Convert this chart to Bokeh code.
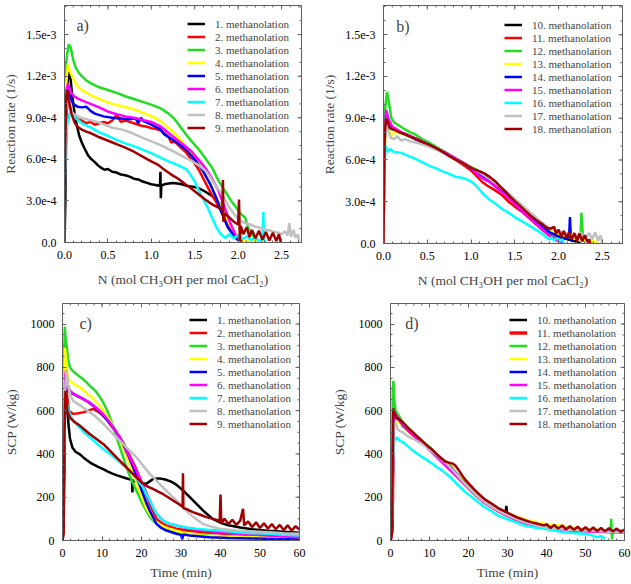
import math
from bokeh.plotting import figure
from bokeh.models import Range1d, FixedTicker, Label
from bokeh.layouts import column, row
from bokeh.embed import file_html
from bokeh.resources import INLINE

# ---------------- data ----------------
COLORS = ["#000000", "#ff0000", "#22dd22", "#ffff00", "#0000ff",
          "#ff00ff", "#00ffff", "#c0c0c0", "#a00000"]

LABELS_A = ["1. methanolation", "2. methanolation", "3. methanolation",
            "4. methanolation", "5. methanolation", "6. methanolation",
            "7. methanolation", "8. methanolation", "9. methanolation"]
LABELS_B = ["10. methanolation", "11. methanolation", "12. methanolation",
            "13. methanolation", "14. methanolation", "15. methanolation",
            "16. methanolation", "17. methanolation", "18. methanolation"]

# panel a : N (mol/mol) vs reaction rate (1e-4 1/s)
A1 = [(0, 0), (0.01, 3.0), (0.02, 8.5), (0.035, 11.5), (0.05, 12.4), (0.07, 11.8), (0.09, 10.5),
      (0.115, 9.4), (0.14, 8.5), (0.17, 7.7), (0.2, 7.2), (0.23, 6.8), (0.27, 6.3), (0.31, 6.0),
      (0.35, 5.8), (0.38, 5.6), (0.42, 5.4), (0.46, 5.25), (0.5, 5.3), (0.55, 5.1), (0.6, 5.05),
      (0.65, 4.9), (0.7, 4.85), (0.75, 4.75), (0.8, 4.6), (0.85, 4.55), (0.9, 4.4), (0.95, 4.3),
      (1.0, 4.2), (1.05, 4.15), (1.08, 4.1), (1.1, 4.2), (1.105, 5.1), (1.11, 3.2), (1.115, 4.1),
      (1.15, 4.2), (1.2, 4.25), (1.25, 4.3), (1.3, 4.25), (1.35, 4.2), (1.4, 4.1), (1.45, 4.05),
      (1.5, 4.0), (1.55, 3.9), (1.6, 3.75), (1.65, 3.55), (1.7, 3.35), (1.75, 3.1), (1.8, 2.7),
      (1.85, 1.9), (1.9, 1.2), (1.95, 0.6), (2.0, 0.25), (2.05, 0.1)]
A2 = [(0, 0), (0.005, 6.0), (0.015, 9.5), (0.025, 10.3), (0.04, 10.0), (0.07, 9.6), (0.1, 9.2),
      (0.15, 8.9), (0.2, 8.8), (0.25, 8.6), (0.3, 8.7), (0.35, 8.5), (0.4, 8.6), (0.45, 8.7),
      (0.5, 8.6), (0.55, 8.8), (0.6, 9.2), (0.65, 8.7), (0.7, 8.8), (0.75, 8.7), (0.8, 8.6),
      (0.85, 8.5), (0.9, 8.4), (0.95, 8.35), (1.0, 8.25), (1.05, 8.2), (1.1, 8.1), (1.15, 7.9),
      (1.2, 7.6), (1.23, 7.2), (1.26, 7.3), (1.3, 7.1), (1.35, 6.8), (1.4, 6.5), (1.45, 6.1),
      (1.5, 5.7), (1.55, 5.2), (1.6, 4.6), (1.65, 4.0), (1.7, 3.4), (1.75, 2.9), (1.8, 2.3),
      (1.85, 1.7), (1.9, 1.1), (1.95, 0.6), (2.0, 0.25), (2.05, 0.1)]
A3 = [(0, 0), (0.005, 9.0), (0.015, 12.5), (0.03, 13.6), (0.05, 14.3), (0.07, 14.1), (0.1, 13.2),
      (0.13, 12.6), (0.17, 12.2), (0.2, 12.0), (0.25, 11.7), (0.3, 11.5), (0.4, 11.2), (0.5, 11.0),
      (0.6, 10.8), (0.7, 10.55), (0.8, 10.35), (0.9, 10.15), (1.0, 9.95), (1.1, 9.7), (1.2, 9.3),
      (1.27, 8.9), (1.35, 8.2), (1.45, 7.4), (1.55, 6.7), (1.62, 6.1), (1.7, 5.4), (1.77, 4.5),
      (1.85, 3.7), (1.92, 3.0), (1.98, 2.5), (2.04, 2.0), (2.08, 1.8), (2.12, 1.0), (2.18, 0.4),
      (2.23, 0.15), (2.28, 0.05)]
A4 = [(0, 0), (0.005, 7.0), (0.02, 11.5), (0.04, 12.9), (0.06, 12.4), (0.1, 11.8), (0.15, 11.3),
      (0.2, 11.0), (0.31, 10.6), (0.46, 10.2), (0.55, 10.0), (0.65, 9.85), (0.75, 9.7), (0.85, 9.5),
      (0.95, 9.25), (1.04, 9.0), (1.12, 8.7), (1.19, 8.3), (1.25, 8.0), (1.31, 7.6), (1.38, 7.1),
      (1.46, 6.4), (1.54, 5.7), (1.62, 4.9), (1.68, 4.2), (1.73, 3.5), (1.8, 2.6), (1.85, 2.0),
      (1.92, 1.1), (2.0, 0.4), (2.08, 0.15), (2.15, 0.1), (2.2, 0.15), (2.25, 0.05)]
A5 = [(0, 0), (0.005, 6.0), (0.02, 10.0), (0.03, 11.2), (0.06, 10.6), (0.1, 10.0), (0.15, 9.8),
      (0.2, 9.75), (0.25, 9.8), (0.3, 9.5), (0.35, 9.3), (0.45, 9.1), (0.55, 9.0), (0.65, 8.95),
      (0.75, 8.9), (0.82, 8.95), (0.85, 8.6), (0.88, 9.0), (0.9, 8.8), (1.0, 8.5), (1.1, 8.2),
      (1.15, 7.8), (1.2, 7.6), (1.3, 7.2), (1.4, 6.7), (1.5, 6.0), (1.6, 5.1), (1.68, 4.2),
      (1.75, 3.2), (1.82, 2.0), (1.88, 1.1), (1.95, 0.5), (2.0, 0.15)]
A6 = [(0, 0), (0.005, 7.5), (0.02, 10.8), (0.04, 11.5), (0.07, 10.9), (0.1, 10.6), (0.15, 10.4),
      (0.2, 10.25), (0.3, 10.0), (0.4, 9.75), (0.5, 9.45), (0.6, 9.25), (0.7, 9.1), (0.8, 9.0),
      (0.9, 8.85), (1.0, 8.7), (1.1, 8.4), (1.2, 7.9), (1.3, 7.4), (1.38, 7.0), (1.46, 6.6),
      (1.54, 6.0), (1.62, 5.4), (1.7, 4.6), (1.77, 3.8), (1.83, 2.8), (1.88, 1.9), (1.93, 1.1),
      (1.96, 0.7), (2.0, 0.3)]
A7 = [(0, 0), (0.002, 3.6), (0.01, 6.5), (0.03, 8.5), (0.06, 9.3), (0.08, 9.5), (0.11, 9.1),
      (0.15, 8.85), (0.2, 8.6), (0.3, 8.3), (0.4, 7.95), (0.5, 7.7), (0.6, 7.4), (0.7, 7.15),
      (0.8, 6.95), (0.9, 6.7), (1.0, 6.45), (1.1, 6.15), (1.2, 5.85), (1.3, 5.6), (1.4, 5.3),
      (1.45, 4.9), (1.5, 4.4), (1.55, 3.7), (1.6, 3.1), (1.65, 2.5), (1.7, 1.8), (1.75, 1.1),
      (1.8, 0.6), (1.85, 0.35), (1.9, 0.6), (1.95, 0.3), (2.0, 0.55), (2.05, 0.25), (2.1, 0.45),
      (2.15, 0.2), (2.2, 0.3), (2.25, 0.1), (2.28, 0.3), (2.29, 2.2), (2.3, 0.2), (2.32, 0.05)]
A8 = [(0, 0), (0.005, 5.0), (0.02, 9.5), (0.04, 10.3), (0.07, 9.6), (0.1, 9.3), (0.19, 9.0),
      (0.28, 8.85), (0.38, 8.7), (0.46, 8.5), (0.54, 8.3), (0.62, 8.2), (0.69, 8.1), (0.77, 7.9),
      (0.85, 7.7), (0.92, 7.5), (1.0, 7.3), (1.08, 7.1), (1.15, 6.9), (1.23, 6.65), (1.31, 6.4),
      (1.38, 6.15), (1.46, 5.9), (1.54, 5.6), (1.62, 5.2), (1.68, 4.7), (1.73, 4.2), (1.79, 3.7),
      (1.85, 3.1), (1.9, 2.5), (1.96, 2.0), (2.02, 1.6), (2.08, 1.4), (2.14, 1.3), (2.19, 1.15),
      (2.23, 1.1), (2.28, 1.0), (2.33, 0.9), (2.38, 0.85), (2.43, 0.75), (2.47, 0.7), (2.5, 0.6),
      (2.54, 0.8), (2.57, 0.5), (2.59, 1.4), (2.61, 0.4), (2.64, 0.9), (2.66, 0.35), (2.69, 0.6),
      (2.7, 0.1)]
A9 = [(0, 0), (0.005, 6.0), (0.02, 10.5), (0.035, 11.0), (0.05, 10.3), (0.08, 9.3), (0.12, 8.6),
      (0.16, 8.3), (0.2, 8.15), (0.25, 8.0), (0.3, 7.9), (0.38, 7.65), (0.46, 7.45), (0.54, 7.25),
      (0.62, 7.05), (0.7, 6.85), (0.8, 6.55), (0.9, 6.2), (1.0, 5.85), (1.08, 5.6), (1.15, 5.25),
      (1.23, 4.9), (1.31, 4.6), (1.38, 4.25), (1.46, 3.9), (1.54, 3.5), (1.62, 3.1), (1.7, 2.75),
      (1.78, 2.5), (1.82, 2.4), (1.825, 4.5), (1.83, 1.5), (1.85, 2.1), (1.9, 1.8), (1.95, 1.5),
      (2.0, 1.3), (2.01, 3.1), (2.02, 0.1), (2.03, 1.2), (2.06, 0.6), (2.1, 1.1), (2.13, 0.4),
      (2.16, 0.9), (2.2, 0.3), (2.24, 0.85), (2.28, 0.2), (2.32, 0.75), (2.36, 0.15), (2.4, 0.7),
      (2.44, 0.1), (2.47, 0.6), (2.49, 0.05), (2.5, 0.0)]

# panel b : N (mol/mol) vs reaction rate (1e-4 1/s)
B10 = [(0, 0), (0.01, 7.0), (0.03, 9.4), (0.05, 8.9), (0.08, 8.4), (0.12, 8.2), (0.2, 7.95),
       (0.3, 7.7), (0.4, 7.4), (0.5, 7.15), (0.6, 6.85), (0.7, 6.5), (0.8, 6.15), (0.9, 5.8),
       (1.0, 5.45), (1.1, 5.05), (1.2, 4.6), (1.3, 4.1), (1.4, 3.6), (1.5, 3.0), (1.6, 2.4),
       (1.7, 1.8), (1.8, 1.3), (1.9, 0.8), (2.0, 0.5), (2.1, 0.3), (2.2, 0.15), (2.25, 0.0)]
B11 = [(0, 0), (0.005, 5.0), (0.02, 8.7), (0.04, 8.9), (0.07, 8.4), (0.12, 8.2), (0.2, 7.95),
       (0.3, 7.7), (0.4, 7.45), (0.5, 7.15), (0.6, 6.85), (0.7, 6.5), (0.8, 6.1), (0.9, 5.7),
       (1.0, 5.25), (1.07, 4.8), (1.13, 4.4), (1.2, 4.1), (1.28, 3.8), (1.35, 3.5), (1.43, 3.0),
       (1.5, 2.65), (1.58, 2.3), (1.66, 1.85), (1.74, 1.4), (1.82, 0.95), (1.89, 0.6), (1.95, 0.4),
       (2.0, 0.25), (2.05, 0.1)]
B12 = [(0, 0), (0.005, 5.0), (0.02, 9.8), (0.04, 10.9), (0.06, 10.2), (0.09, 9.0), (0.12, 8.7),
       (0.16, 8.55), (0.22, 8.3), (0.3, 8.0), (0.36, 7.85), (0.44, 7.5), (0.52, 7.25), (0.6, 6.95),
       (0.67, 6.7), (0.75, 6.4), (0.82, 6.1), (0.9, 5.85), (0.97, 5.6), (1.05, 5.35), (1.15, 4.95),
       (1.25, 4.5), (1.35, 3.95), (1.45, 3.4), (1.55, 2.8), (1.65, 2.2), (1.75, 1.6), (1.85, 1.1),
       (1.95, 0.8), (2.05, 0.6), (2.15, 0.45), (2.2, 0.5), (2.25, 0.3), (2.26, 2.2), (2.28, 0.3),
       (2.32, 0.2), (2.38, 0.1)]
B13 = [(0, 0), (0.01, 6.0), (0.03, 8.8), (0.06, 8.3), (0.08, 7.7), (0.1, 7.8), (0.13, 8.0),
       (0.2, 7.9), (0.3, 7.7), (0.4, 7.4), (0.5, 7.1), (0.6, 6.85), (0.7, 6.5), (0.8, 6.15),
       (0.9, 5.8), (1.0, 5.45), (1.1, 5.05), (1.2, 4.6), (1.3, 4.15), (1.4, 3.65), (1.5, 3.1),
       (1.6, 2.55), (1.7, 1.95), (1.8, 1.45), (1.9, 1.0), (2.0, 0.7), (2.1, 0.5), (2.2, 0.35),
       (2.3, 0.25), (2.4, 0.15), (2.45, 0.05)]
B14 = [(0, 0), (0.01, 7.0), (0.03, 9.3), (0.06, 8.7), (0.1, 8.3), (0.2, 7.95), (0.3, 7.7),
       (0.4, 7.4), (0.5, 7.15), (0.6, 6.85), (0.7, 6.5), (0.8, 6.15), (0.9, 5.8), (1.0, 5.4),
       (1.1, 4.95), (1.2, 4.5), (1.3, 4.0), (1.4, 3.5), (1.5, 2.95), (1.6, 2.4), (1.7, 1.8),
       (1.8, 1.25), (1.9, 0.8), (2.0, 0.5), (2.08, 0.35), (2.12, 0.5), (2.13, 1.9), (2.14, 0.4),
       (2.16, 0.1)]
B15 = [(0, 0), (0.01, 7.0), (0.03, 9.6), (0.06, 8.9), (0.1, 8.4), (0.2, 8.0), (0.3, 7.75),
       (0.4, 7.45), (0.5, 7.15), (0.6, 6.85), (0.7, 6.55), (0.8, 6.2), (0.9, 5.85), (1.0, 5.45),
       (1.07, 5.0), (1.13, 4.7), (1.2, 4.45), (1.26, 4.2), (1.32, 3.85), (1.4, 3.45), (1.5, 2.85),
       (1.6, 2.25), (1.7, 1.65), (1.8, 1.1), (1.89, 0.6), (1.95, 0.3), (2.0, 0.15), (2.05, 0.05)]
B16 = [(0, 0), (0.003, 1.8), (0.01, 5.5), (0.025, 7.0), (0.05, 6.6), (0.08, 6.8), (0.11, 6.6),
       (0.15, 6.55), (0.21, 6.5), (0.28, 6.3), (0.36, 6.1), (0.44, 5.85), (0.52, 5.6), (0.6, 5.4),
       (0.67, 5.2), (0.75, 5.0), (0.82, 4.8), (0.88, 4.75), (0.94, 4.65), (1.0, 4.45), (1.05, 4.2),
       (1.12, 3.7), (1.2, 3.2), (1.28, 2.85), (1.35, 2.5), (1.43, 2.2), (1.5, 1.9), (1.58, 1.6),
       (1.66, 1.3), (1.74, 1.0), (1.81, 0.7), (1.85, 0.5), (1.89, 0.3), (1.92, 0.45), (1.95, 0.2),
       (1.98, 0.4), (2.01, 0.15), (2.04, 0.3), (2.06, 0.05)]
B17 = [(0, 0), (0.01, 6.5), (0.03, 9.0), (0.05, 8.2), (0.08, 7.6), (0.12, 7.5), (0.16, 7.7),
       (0.2, 7.4), (0.25, 7.5), (0.3, 7.35), (0.4, 7.2), (0.5, 7.0), (0.6, 6.75), (0.7, 6.45),
       (0.8, 6.1), (0.9, 5.8), (1.0, 5.45), (1.1, 5.1), (1.2, 4.7), (1.3, 4.25), (1.4, 3.75),
       (1.5, 3.2), (1.6, 2.65), (1.7, 2.1), (1.8, 1.55), (1.9, 1.1), (2.0, 0.85), (2.1, 0.7),
       (2.2, 0.55), (2.25, 0.8), (2.3, 0.4), (2.35, 0.75), (2.38, 0.3), (2.42, 0.8), (2.45, 0.2),
       (2.48, 0.6), (2.5, 0.0)]
B18 = [(0, 0), (0.005, 4.0), (0.015, 8.0), (0.03, 9.0), (0.045, 8.8), (0.07, 8.3), (0.1, 8.2),
       (0.13, 8.15), (0.18, 8.0), (0.25, 7.85), (0.3, 7.7), (0.36, 7.55), (0.44, 7.3), (0.52, 7.1),
       (0.6, 6.85), (0.67, 6.6), (0.75, 6.3), (0.82, 6.05), (0.9, 5.8), (0.97, 5.55), (1.03, 5.35),
       (1.09, 5.2), (1.13, 5.1), (1.16, 5.0), (1.22, 4.75), (1.28, 4.45), (1.34, 4.05), (1.39, 3.75),
       (1.45, 3.35), (1.5, 3.05), (1.56, 2.7), (1.62, 2.35), (1.68, 2.0), (1.74, 1.7), (1.8, 1.45),
       (1.85, 1.2), (1.9, 1.05), (1.95, 1.2), (1.97, 0.7), (2.0, 1.0), (2.03, 0.5), (2.06, 0.9),
       (2.09, 0.4), (2.12, 0.8), (2.15, 0.3), (2.18, 0.75), (2.21, 0.2), (2.24, 0.7), (2.27, 0.15),
       (2.3, 0.6), (2.33, 0.1), (2.35, 0.3), (2.36, 0.0)]

# panel c : time (min) vs SCP (W/kg)
C1 = [(0, 0), (0.3, 120), (0.6, 560), (0.9, 723), (1.2, 640), (1.5, 540), (1.9, 470), (2.5, 430),
      (3.3, 410), (4.4, 398), (5.2, 385), (6.1, 372), (7, 360), (7.8, 352), (9, 340), (10.3, 330),
      (11.5, 318), (12.8, 308), (14, 300), (15.3, 292), (16.5, 285), (17.6, 280), (17.7, 222),
      (17.8, 278), (18.7, 270), (20, 265), (21.2, 262), (22, 272), (23, 285), (24.5, 287),
      (26, 282), (27.5, 272), (28.5, 262), (30.5, 232), (33, 186), (35.5, 140), (38, 100),
      (40, 82), (42, 70), (45, 60), (48, 52), (52, 45), (56, 40), (60, 36)]
C2 = [(0, 0), (0.3, 200), (0.6, 700), (0.9, 738), (1.2, 660), (1.6, 600), (2.7, 585), (4, 588),
      (5.2, 592), (6.5, 600), (7.75, 608), (9, 595), (10.3, 577), (11.2, 560), (12, 538),
      (13.2, 510), (14.5, 477), (15.8, 438), (17, 392), (18.3, 345), (19.5, 292), (20.8, 232),
      (22.1, 169), (23.8, 100), (25, 82), (26.3, 69), (28.8, 54), (32, 45), (35.5, 38), (40, 32),
      (44, 28), (50, 22), (55, 18), (60, 15)]
C3 = [(0, 0), (0.2, 300), (0.4, 850), (0.6, 988), (0.8, 930), (1.0, 908), (1.4, 840), (1.85, 800),
      (2.5, 785), (3.5, 769), (4.3, 758), (5.2, 746), (6, 732), (6.9, 715), (7.8, 700), (8.6, 685),
      (9.5, 662), (10.3, 638), (11.2, 605), (12, 569), (12.6, 540), (13.2, 508), (13.8, 470),
      (14.5, 431), (15.3, 388), (16.2, 338), (17, 300), (17.9, 262), (18.7, 230), (19.5, 200),
      (20.3, 168), (21.2, 138), (22, 112), (22.9, 92), (24, 75), (25.4, 62), (27, 50), (28.8, 40),
      (31, 33), (34, 28), (37.2, 23), (40, 20), (44, 15), (48, 12), (52.4, 8), (56, 7), (60, 5)]
C4 = [(0, 0), (0.3, 400), (0.6, 890), (0.9, 840), (1.3, 760), (1.85, 738), (3, 722), (4.4, 708),
      (5.6, 690), (6.9, 669), (8.1, 648), (9.4, 623), (10.7, 590), (12, 554), (12.8, 528),
      (13.6, 500), (14.5, 466), (15.3, 431), (16.1, 395), (17, 354), (17.8, 312), (18.7, 269),
      (19.5, 228), (20.4, 185), (21.2, 150), (22.1, 123), (23, 100), (23.8, 85), (25.4, 66),
      (27.1, 54), (29, 44), (31.3, 34), (35.5, 23), (40, 20), (44, 18), (50, 15), (55, 11), (60, 8)]
C5 = [(0, 0), (0.3, 250), (0.7, 700), (1.0, 769), (1.3, 720), (1.9, 682), (2.7, 677), (4, 665),
      (5.2, 654), (6.5, 640), (7.75, 623), (9, 602), (10.3, 577), (11.5, 552), (12.8, 523),
      (14, 490), (15.3, 446), (16.6, 395), (17.9, 338), (19.1, 278), (20.4, 215), (21.2, 175),
      (22.1, 138), (23, 105), (23.8, 77), (25, 58), (26.3, 46), (28.8, 31), (30, 26), (30.3, 6),
      (30.6, 28), (32.2, 23), (37.2, 15), (42, 12), (48, 9), (54, 7), (60, 5)]
C6 = [(0, 0), (0.3, 300), (0.7, 760), (0.9, 785), (1.2, 720), (1.85, 692), (3, 676), (4.4, 662),
      (5.6, 650), (6.9, 638), (8.1, 620), (9.4, 600), (10.7, 575), (12, 546), (13.2, 513),
      (14.5, 477), (15.8, 433), (17, 385), (18.3, 338), (19.5, 292), (20.8, 238), (22.1, 185),
      (23, 150), (23.8, 123), (25.4, 92), (27, 78), (28.8, 69), (32.2, 54), (37.2, 43), (40, 38),
      (44, 31), (48, 27), (52.4, 23), (56, 19), (60, 15)]
C7 = [(0, 0), (0.05, 246), (0.3, 420), (0.6, 600), (1.0, 638), (1.5, 600), (2.5, 560), (3.5, 538),
      (5.2, 505), (6.9, 477), (8.6, 450), (10.3, 423), (12, 400), (13.6, 377), (15.3, 350),
      (17, 323), (18.7, 288), (20.4, 246), (21.2, 215), (22.1, 185), (23, 152), (23.8, 123),
      (25.4, 92), (27, 78), (28.8, 69), (31.3, 60), (33.9, 54), (36.8, 50), (39.8, 46), (44, 38),
      (48, 34), (52.4, 31), (56, 27), (60, 23)]
C8 = [(0, 0), (0.3, 250), (0.7, 700), (1.0, 792), (1.4, 720), (2.0, 670), (2.7, 646), (4, 630),
      (5.2, 615), (6.9, 592), (8.6, 569), (10.3, 540), (12, 508), (13.6, 477), (15.3, 446),
      (17, 415), (18.7, 385), (20.4, 346), (22.1, 308), (23.8, 277), (25.4, 246), (27.1, 215),
      (28.8, 185), (30.5, 154), (32.2, 123), (33.9, 98), (35.5, 77), (37.7, 64), (39.8, 54),
      (44, 46), (48, 42), (52.4, 38), (56, 34), (60, 31)]
C9 = [(0, 0), (0.3, 30), (0.5, 500), (0.75, 692), (1.2, 600), (1.85, 569), (3, 548), (4.4, 531),
      (5.6, 512), (6.9, 492), (8.6, 469), (10.3, 446), (12, 415), (13.6, 385), (15.3, 354),
      (17, 323), (18.7, 292), (20.4, 262), (21.7, 248), (22.9, 238), (24.2, 226), (25.4, 215),
      (26.7, 200), (28, 185), (29.3, 170), (30.4, 156), (30.5, 311), (30.6, 150), (31.8, 142),
      (33, 131), (34.7, 120), (36.4, 108), (38.1, 100), (39.8, 92), (40, 212), (40.2, 80),
      (41, 100), (42, 76), (43, 96), (44, 72), (45, 92), (45.7, 146), (46, 70), (47, 88),
      (48, 62), (49, 84), (50, 58), (51, 80), (52, 55), (53, 76), (54, 52), (55, 72), (56, 48),
      (57, 70), (58, 46), (59, 66), (60, 50)]

# panel d : time (min) vs SCP (W/kg)
D10 = [(0, 0), (0.4, 60), (0.8, 560), (1.2, 585), (2, 565), (3.2, 535), (5.7, 495), (8.2, 455),
       (10.8, 415), (13.3, 375), (15, 350), (16.7, 315), (19.2, 262), (21.7, 218), (24.2, 180),
       (27.6, 142), (29.5, 125), (29.7, 160), (29.9, 122), (31, 110), (34.3, 87), (37.7, 70),
       (41, 60), (46, 50), (51, 46), (56, 43), (60, 42)]
D11 = [(0, 0), (0.4, 50), (0.8, 590), (1.2, 575), (2, 560), (3.2, 530), (5.7, 490), (8.2, 452),
       (10.8, 413), (13.3, 372), (15, 348), (16.7, 312), (19.2, 260), (21.7, 214), (24.2, 176),
       (27.6, 137), (31, 107), (34.3, 84), (37.7, 68), (41, 58), (46, 50), (51, 46), (56, 44),
       (60, 43)]
D12 = [(0, 0), (0.3, 100), (0.6, 700), (0.75, 738), (0.95, 650), (1.3, 600), (2, 580), (3.2, 545),
       (5.7, 500), (8.2, 460), (10.8, 418), (13.3, 375), (15, 350), (16.7, 314), (19.2, 262),
       (21.7, 216), (24.2, 178), (27.6, 140), (31, 110), (34.3, 86), (37.7, 70), (41, 60),
       (46, 51), (51, 47), (54, 45), (56.4, 40), (56.6, 100), (56.8, 5), (57, 45), (60, 42)]
D13 = [(0, 0), (0.4, 100), (0.8, 560), (1.2, 540), (2, 550), (3.2, 530), (5.7, 492), (8.2, 455),
       (10.8, 416), (13.3, 376), (15, 352), (16.7, 316), (19.2, 265), (21.7, 220), (24.2, 183),
       (27.6, 145), (31, 118), (34.3, 98), (37.7, 83), (41, 72), (44, 68), (46, 60), (51, 52),
       (56, 46), (60, 44)]
D14 = [(0, 0), (0.4, 80), (0.8, 570), (1.2, 580), (2, 562), (3.2, 532), (5.7, 492), (8.2, 454),
       (10.8, 414), (13.3, 374), (15, 348), (16.7, 312), (19.2, 260), (21.7, 214), (24.2, 176),
       (27.6, 138), (31, 108), (34.3, 85), (37.7, 69), (41, 58), (46, 50), (51, 46), (56, 43),
       (60, 42)]
D15 = [(0, 0), (0.4, 80), (0.8, 580), (1.2, 585), (2, 565), (3.2, 535), (5.7, 492), (8.2, 450),
       (10.8, 405), (13.3, 360), (15, 330), (16.7, 300), (19.2, 255), (21.7, 210), (24.2, 172),
       (27.6, 135), (31, 105), (34.3, 82), (37.7, 66), (41, 55), (44, 50), (46, 46), (51, 42),
       (56, 38), (60, 36)]
D16 = [(0, 0), (0.4, 200), (0.6, 380), (1.0, 460), (1.7, 477), (2.3, 462), (3.2, 454), (4.5, 435),
       (5.7, 415), (7, 400), (8.2, 385), (9.5, 370), (10.8, 354), (12, 338), (13.3, 323),
       (14.5, 305), (15.8, 285), (17, 262), (18.4, 238), (19.6, 218), (20.9, 200), (22.5, 177),
       (24.2, 154), (26, 134), (27.6, 115), (29.3, 103), (31, 92), (32.7, 80), (34.3, 69),
       (37, 60), (39.4, 54), (42, 46), (44.4, 38), (47, 35), (49.5, 31), (51, 28), (52.9, 15),
       (54, 20), (55, 10)]
D17 = [(0, 0), (0.4, 90), (0.8, 520), (1.2, 545), (2, 510), (3.2, 500), (4.5, 480), (5.7, 470),
       (8.2, 445), (10.8, 410), (13.3, 370), (15, 345), (16.7, 310), (19.2, 260), (21.7, 214),
       (24.2, 176), (27.6, 138), (31, 108), (34.3, 85), (37.7, 69), (41, 58), (46, 50), (51, 46),
       (56, 40), (60, 38)]
D18 = [(0, 0), (0.4, 40), (0.7, 610), (1.0, 590), (1.5, 570), (2.2, 560), (3.2, 545), (4.5, 520),
       (5.7, 500), (7, 478), (8.2, 458), (9.5, 437), (10.8, 418), (12, 395), (13.3, 375),
       (14, 365), (15, 360), (16, 355), (16.7, 345), (17.5, 325), (18.4, 300), (19.2, 280),
       (20.5, 255), (21.7, 232), (23, 210), (24.2, 190), (26, 170), (27.6, 150), (29.3, 135),
       (31, 120), (32.7, 105), (34.3, 95), (36, 85), (37.7, 77), (39.4, 70), (40, 75), (41, 58),
       (42, 72), (43, 55), (44, 70), (45, 52), (46, 66), (47, 50), (48, 64), (49, 46), (50, 62),
       (51, 45), (52, 60), (53, 44), (54, 58), (55, 42), (56, 57), (57, 42), (58, 55), (59, 40),
       (60, 50)]

SERIES_A = [A1, A2, A3, A4, A5, A6, A7, A8, A9]
SERIES_B = [B10, B11, B12, B13, B14, B15, B16, B17, B18]
SERIES_C = [C1, C2, C3, C4, C5, C6, C7, C8, C9]
SERIES_D = [D10, D11, D12, D13, D14, D15, D16, D17, D18]

RATE_UNIT = 1e-4
N_TICKS = [0.0, 0.5, 1.0, 1.5, 2.0, 2.5]
N_TICK_LABELS = ["0.0", "0.5", "1.0", "1.5", "2.0", "2.5"]
RATE_TICKS = [0.0, 0.0003, 0.0006, 0.0009, 0.0012, 0.0015]
RATE_TICK_LABELS = ["0.0", "3.0e-4", "6.0e-4", "9.0e-4", "1.2e-3", "1.5e-3"]
T_TICKS = [0, 10, 20, 30, 40, 50, 60]
SCP_TICKS = [0, 200, 400, 600, 800, 1000]

FONT = "Liberation Serif"
AX_COLOR = "#606060"


def style_axis(ax, ticker, over=None):
    ax.ticker = ticker
    ax.axis_line_color = AX_COLOR
    ax.major_tick_line_color = AX_COLOR
    ax.minor_tick_line_color = AX_COLOR
    ax.major_tick_in = 4
    ax.major_tick_out = 0
    ax.minor_tick_in = 2
    ax.minor_tick_out = 0
    ax.major_label_text_font = FONT
    ax.major_label_text_color = "black"
    ax.major_label_text_font_size = "12px"
    ax.major_label_standoff = 8
    if over is not None:
        ax.major_label_overrides = over
    ax.axis_label_text_font = FONT
    ax.axis_label_text_font_size = "13.5px"
    ax.axis_label_text_font_style = "normal"


def mirror_ticks(p, xticker, yticker, x_end, y_end):
    # inward tick marks on the top and right frame edges (glyphs are clipped to the frame)
    xt, xm = xticker.ticks, xticker.minor_ticks
    yt, ym = yticker.ticks, yticker.minor_ticks
    p.scatter(xt, [y_end] * len(xt), marker="dash", angle=math.pi / 2, size=8,
              line_color=AX_COLOR, line_width=1)
    p.scatter(xm, [y_end] * len(xm), marker="dash", angle=math.pi / 2, size=4,
              line_color=AX_COLOR, line_width=1)
    p.scatter([x_end] * len(yt), yt, marker="dash", size=8, line_color=AX_COLOR, line_width=1)
    p.scatter([x_end] * len(ym), ym, marker="dash", size=4, line_color=AX_COLOR, line_width=1)


def make_panel(series, labels, widths, x_end, y_end, y_mult, xticker, yticker,
               ylabel, xlabel, tag, tag_xy, legend_xy, fw, fh, mbl, mbr, mbt, mbb,
               x_over=None, y_over=None, xlabel_standoff=5, ylabel_standoff=5):
    p = figure(frame_width=fw, frame_height=fh, min_border_left=mbl, min_border_right=mbr,
               min_border_top=mbt, min_border_bottom=mbb, toolbar_location=None,
               output_backend="svg", x_range=Range1d(0, x_end), y_range=Range1d(0, y_end))
    p.xgrid.visible = False
    p.ygrid.visible = False
    p.outline_line_color = AX_COLOR
    p.background_fill_color = "white"
    p.border_fill_color = "white"
    for pts, lab, col, w in zip(series, labels, COLORS, widths):
        xs = [q[0] for q in pts]
        ys = [q[1] * y_mult for q in pts]
        p.line(xs, ys, line_color=col, line_width=w, legend_label=lab)
    mirror_ticks(p, xticker, yticker, x_end, y_end)
    xax = p.xaxis[0]
    yax = p.yaxis[0]
    style_axis(xax, xticker, x_over)
    style_axis(yax, yticker, y_over)
    yax.axis_label = ylabel
    yax.axis_label_standoff = ylabel_standoff
    xax.axis_label = xlabel
    xax.axis_label_standoff = xlabel_standoff
    p.add_layout(Label(x=tag_xy[0], y=tag_xy[1], text=tag, text_font=FONT,
                       text_font_size="16px", text_baseline="middle", text_align="left"))
    leg = p.legend[0]
    leg.location = legend_xy
    leg.border_line_color = None
    leg.background_fill_alpha = 0
    leg.label_text_font = FONT
    leg.label_text_font_size = "11px"
    leg.glyph_width = 18
    leg.glyph_height = 13
    leg.label_height = 13
    leg.spacing = 0
    leg.padding = 3
    leg.margin = 0
    leg.label_standoff = 10
    return p


n_xt = FixedTicker(ticks=N_TICKS, minor_ticks=[i * 0.1 for i in range(28)])
rate_yt = FixedTicker(ticks=RATE_TICKS, minor_ticks=[i * 1e-4 for i in range(18)])
t_xt = FixedTicker(ticks=T_TICKS, minor_ticks=[i * 2 for i in range(31)])
scp_yt = FixedTicker(ticks=SCP_TICKS, minor_ticks=[i * 50 for i in range(22)])
rate_over = {t: s for t, s in zip(RATE_TICKS, RATE_TICK_LABELS)}
n_over = {t: s for t, s in zip(N_TICKS, N_TICK_LABELS)}

N_END, RATE_END = 2.73, 1.71e-3
T_END, SCP_END = 60, 1095
w_std = [2.5] * 9
w_d = [2.5, 3.4] + [2.5] * 7
N_LABEL = "N (mol CH\u2083OH per mol CaCl\u2082)"

pa = make_panel(SERIES_A, LABELS_A, w_std, N_END, RATE_END, RATE_UNIT, n_xt, rate_yt,
                "Reaction rate (1/s)", N_LABEL, "a)", (0.138, 1.566e-3), (123, 108),
                237, 237, 60, 13, 5, 61, x_over=n_over, y_over=rate_over,
                xlabel_standoff=10, ylabel_standoff=5)
pb = make_panel(SERIES_B, LABELS_B, w_std, N_END, RATE_END, RATE_UNIT, n_xt, rate_yt,
                "Reaction rate (1/s)", N_LABEL, "b)", (0.145, 1.559e-3), (121, 108),
                239, 238, 69, 8, 4, 61, x_over=n_over, y_over=rate_over,
                xlabel_standoff=10, ylabel_standoff=5)
pc = make_panel(SERIES_C, LABELS_A, w_std, T_END, SCP_END, 1, t_xt, scp_yt,
                "SCP (W/kg)", "Time (min)", "c)", (4.3, 1003), (127, 110),
                237, 237, 60, 13, 0, 42, xlabel_standoff=5, ylabel_standoff=9)
pd = make_panel(SERIES_D, LABELS_B, w_d, T_END, SCP_END, 1, t_xt, scp_yt,
                "SCP (W/kg)", "Time (min)", "d)", (3.8, 1003), (119, 110),
                234, 237, 78, 8, 0, 42, xlabel_standoff=5, ylabel_standoff=9)

layout = column(row(pa, pb), row(pc, pd))
open("out.html", "w").write(file_html(layout, INLINE))
